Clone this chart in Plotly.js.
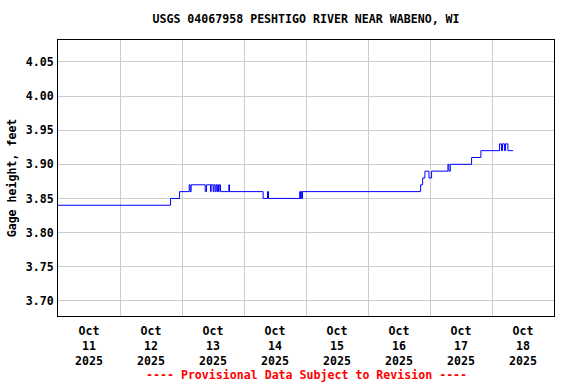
<!DOCTYPE html>
<html>
<head>
<meta charset="utf-8">
<script src="https://cdn.plot.ly/plotly-3.0.1.min.js"></script>
<style>html,body{margin:0;padding:0;background:#fff;}#chart{width:576px;height:384px;}</style>
</head>
<body>
<div id="chart"></div>
<script>
const times = [
  '2025-10-11 00:00','2025-10-12 19:35','2025-10-12 23:04','2025-10-13 02:47','2025-10-13 03:10',
  '2025-10-13 03:33','2025-10-13 08:59','2025-10-13 09:30','2025-10-13 11:03','2025-10-13 11:17',
  '2025-10-13 12:03','2025-10-13 12:20','2025-10-13 12:50','2025-10-13 13:13','2025-10-13 13:36',
  '2025-10-13 13:52','2025-10-13 14:08','2025-10-13 14:23','2025-10-13 14:55','2025-10-13 18:08',
  '2025-10-13 18:24','2025-10-14 07:24','2025-10-14 09:06','2025-10-14 09:29','2025-10-14 21:35',
  '2025-10-14 21:51','2025-10-14 22:05','2025-10-14 22:22','2025-10-14 22:38','2025-10-16 20:22',
  '2025-10-16 21:09','2025-10-16 22:02','2025-10-16 23:36','2025-10-17 00:37','2025-10-17 06:56',
  '2025-10-17 07:19','2025-10-17 07:52','2025-10-17 16:06','2025-10-17 19:42','2025-10-18 02:56',
  '2025-10-18 03:42','2025-10-18 04:05','2025-10-18 04:52','2025-10-18 05:15','2025-10-18 06:09',
  '2025-10-18 08:10'
];
const gageHeight = [
  3.84,3.85,3.86,3.87,3.86,
  3.87,3.86,3.87,3.86,3.87,
  3.86,3.87,3.86,3.87,3.86,
  3.87,3.86,3.87,3.86,3.87,
  3.86,3.85,3.86,3.85,3.86,
  3.85,3.86,3.85,3.86,3.87,
  3.88,3.89,3.88,3.89,3.90,
  3.89,3.90,3.91,3.92,3.93,
  3.92,3.93,3.92,3.93,3.92,
  3.92
];
const labelDates = ['2025-10-11 12:00','2025-10-12 12:00','2025-10-13 12:00','2025-10-14 12:00',
  '2025-10-15 12:00','2025-10-16 12:00','2025-10-17 12:00','2025-10-18 12:00'];
const labelText = ['Oct<br>11<br>2025','Oct<br>12<br>2025','Oct<br>13<br>2025','Oct<br>14<br>2025',
  'Oct<br>15<br>2025','Oct<br>16<br>2025','Oct<br>17<br>2025','Oct<br>18<br>2025'];
const dayBoundaries = ['2025-10-12','2025-10-13','2025-10-14','2025-10-15','2025-10-16','2025-10-17','2025-10-18'];
const xRange = ['2025-10-11 00:00','2025-10-19 00:00'];
const yRange = [3.6777, 4.0822];
const yTicks = [3.70,3.75,3.80,3.85,3.90,3.95,4.00,4.05];

const F = 'DejaVu Sans Mono, monospace';
const trace = {
  x: times, y: gageHeight, type: 'scatter', mode: 'lines',
  line: {shape: 'hv', color: '#0000FF', width: 1},
  hoverinfo: 'skip', showlegend: false
};
const layout = {
  width: 576, height: 384,
  margin: {l: 58, r: 22, t: 40, b: 68},
  paper_bgcolor: '#fff', plot_bgcolor: '#fff',
  font: {family: F, size: 11.6, color: '#000', weight: 'bold'},
  title: {text: '<b>USGS 04067958 PESHTIGO RIVER NEAR WABENO, WI</b>', x: 0.5, xref: 'paper',
          y: 1 - 19/384, yref: 'container', yanchor: 'middle', font: {family: F, size: 11.6, color: '#000'}},
  xaxis: {
    type: 'date', range: xRange, tickmode: 'array', tickvals: labelDates, ticktext: labelText,
    showgrid: false, ticks: '', showline: true, linecolor: '#000', linewidth: 1, mirror: true,
    zeroline: false, ticklabelstandoff: 4, tickfont: {family: F, size: 11.6, color: '#000', weight: 'bold'},
    minor: {tickmode: 'array', tickvals: dayBoundaries, showgrid: true, gridcolor: '#CCCCCC', gridwidth: 1, ticks: ''}
  },
  yaxis: {
    range: yRange, tickmode: 'array', tickvals: yTicks, tickformat: '.2f',
    showgrid: true, gridcolor: '#CCCCCC', gridwidth: 1, ticks: '', zeroline: false,
    showline: true, linecolor: '#000', linewidth: 1, mirror: true, ticklabelstandoff: 1,
    tickfont: {family: F, size: 11.6, color: '#000', weight: 'bold'},
    title: {text: 'Gage height, feet', font: {family: F, size: 11.6, color: '#000', weight: 'bold'}, standoff: 6}
  },
  annotations: [{
    text: '---- Provisional Data Subject to Revision ----', xref: 'paper', yref: 'paper',
    x: 0.5, y: -0.2138, xanchor: 'center', yanchor: 'middle', showarrow: false,
    font: {family: F, size: 11.6, color: '#FF0000', weight: 'bold'}
  }]
};
Plotly.newPlot('chart', [trace], layout, {staticPlot: true, displayModeBar: false});
</script>
</body>
</html>
